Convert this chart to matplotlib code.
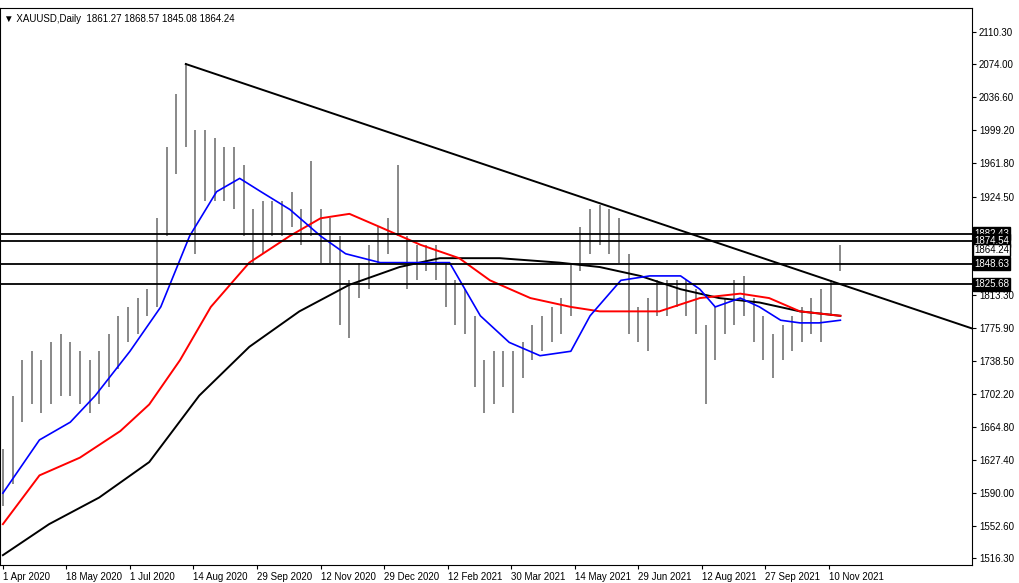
import matplotlib
matplotlib.use("Agg")
import matplotlib.pyplot as plt
import numpy as np
plt.rcParams['font.family'] = ['Liberation Sans', 'DejaVu Sans']

# weekly bars (bar index = 5*week)
highs = [1640,1700,1740,1750,1740,1760,1770,1760,1750,1740,1750,1770,1790,1800,1810,1820,1900,1980,2040,2075,
         2000,2000,1990,1980,1980,1960,1910,1920,1920,1920,1930,1910,1965,1910,1900,1880,1830,1850,1870,1890,
         1900,1960,1880,1870,1870,1870,1850,1830,1820,1790,1740,1750,1750,1750,1760,1780,1790,1800,1810,1850,
         1890,1910,1915,1910,1900,1860,1800,1810,1830,1830,1830,1830,1820,1780,1800,1810,1830,1835,1810,1790,
         1770,1780,1790,1800,1810,1820,1830,1870]
lows =  [1575,1600,1670,1690,1680,1690,1700,1700,1690,1680,1690,1710,1730,1760,1770,1790,1800,1880,1950,1980,
         1860,1920,1920,1920,1910,1880,1850,1860,1880,1880,1890,1870,1880,1850,1850,1780,1765,1810,1820,1850,
         1860,1880,1820,1830,1840,1830,1800,1780,1770,1710,1680,1690,1710,1680,1720,1740,1750,1760,1770,1790,
         1840,1860,1870,1860,1850,1770,1760,1750,1790,1790,1800,1790,1770,1690,1740,1770,1780,1790,1760,1740,
         1720,1740,1750,1760,1770,1760,1790,1840]

blue_idx = [0,19,35,48,66,82,97,111,123,134,149,165,178,196,211,232,248,263,279,295,305,321,336,352,362,370,383,393,404,414,424,435]
blue_val = [1590,1650,1670,1700,1750,1800,1880,1930,1945,1930,1910,1880,1860,1850,1850,1850,1790,1760,1745,1750,1790,1830,1835,1835,1820,1800,1810,1800,1785,1782,1782,1785]
red_idx = [0,19,40,61,76,92,108,128,149,165,180,196,217,237,253,274,295,310,326,341,362,383,398,414,435]
red_val = [1555,1610,1630,1660,1690,1740,1800,1850,1880,1900,1905,1890,1870,1855,1830,1810,1800,1795,1795,1795,1810,1815,1810,1795,1790]
black_idx = [0,24,50,76,102,128,154,180,206,227,258,289,310,331,352,372,393,414,435]
black_val = [1520,1555,1585,1625,1700,1755,1795,1825,1845,1855,1855,1850,1845,1835,1820,1810,1805,1795,1790]

trend_idx = [95, 503]
trend_val = [2074, 1776]
hlines = [1882.43, 1874.54, 1848.63, 1825.68]
current = 1864.24

yticks = [2110.30,2074.00,2036.60,1999.20,1961.80,1924.50,1813.30,1775.90,1738.50,1702.20,1664.80,1627.40,1590.00,1552.60,1516.30]
xlabels = ["1 Apr 2020","18 May 2020","1 Jul 2020","14 Aug 2020","29 Sep 2020","12 Nov 2020","29 Dec 2020",
           "12 Feb 2021","30 Mar 2021","14 May 2021","29 Jun 2021","12 Aug 2021","27 Sep 2021","10 Nov 2021"]

fig = plt.figure(figsize=(10.2,5.83), dpi=100)
ax = fig.add_axes([0.0, 0.031, 0.953, 0.955])
x = np.arange(len(highs))*5
ax.vlines(x, lows, highs, color='#7f7f7f', lw=1.3)
ax.plot(black_idx, black_val, color='black', lw=1.4)
ax.plot(red_idx, red_val, color='#ff0000', lw=1.4)
ax.plot(blue_idx, blue_val, color='#0000ff', lw=1.2)
ax.plot(trend_idx, trend_val, color='black', lw=1.4)
for h in hlines:
    ax.axhline(h, color='black', lw=1.3)
ax.set_xlim(-1.5, 503.4)
ax.set_ylim(1509, 2137)
ax.yaxis.tick_right()
ax.set_yticks(yticks)
ax.set_yticklabels([f"{v:.2f}" for v in yticks], fontsize=7)
ax.set_xticks([i*33 for i in range(len(xlabels))])
ax.set_xticklabels(xlabels, fontsize=7, ha='left')
ax.tick_params(length=3, pad=2)
for h in hlines:
    ax.text(1.002, (h-1509)/(2137-1509), f"{h:.2f}", transform=ax.transAxes, va='center', ha='left',
            fontsize=7, color='white', bbox=dict(facecolor='black', edgecolor='black', pad=1))
ax.text(1.002, (current-1509)/(2137-1509), f"{current:.2f}", transform=ax.transAxes, va='center', ha='left',
        fontsize=7, color='black', bbox=dict(facecolor='white', edgecolor='black', pad=1))
ax.text(0.004, 0.99, "▼ XAUUSD,Daily  1861.27 1868.57 1845.08 1864.24", transform=ax.transAxes,
        va='top', ha='left', fontsize=7, family=['Liberation Sans', 'DejaVu Sans'])
fig.savefig("out.png", dpi=100)
